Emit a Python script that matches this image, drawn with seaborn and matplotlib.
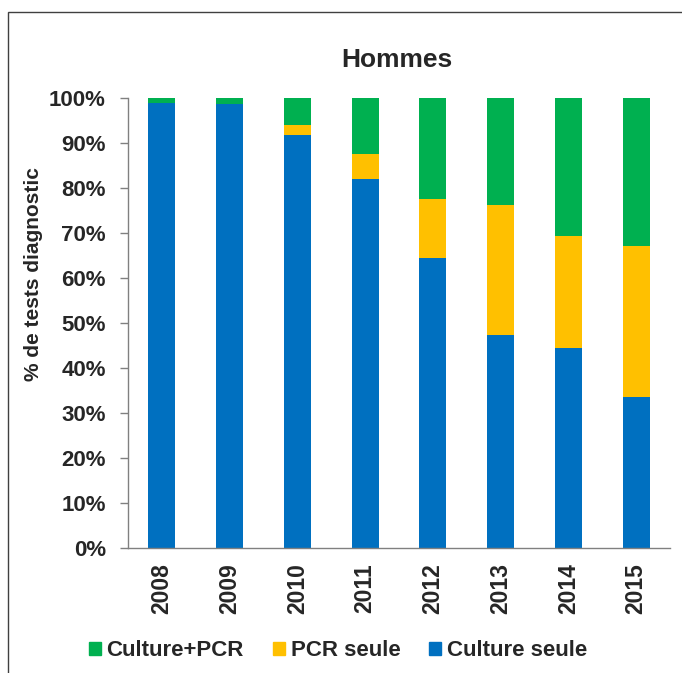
import matplotlib
matplotlib.use('Agg')
import matplotlib.pyplot as plt
import matplotlib.patches as mpatches
import numpy as np
import seaborn as sns

years = ['2008', '2009', '2010', '2011', '2012', '2013', '2014', '2015']
culture_seule = [98.9, 98.7, 91.7, 81.9, 64.4, 47.4, 44.4, 33.6]
pcr_seule = [0.0, 0.0, 2.4, 5.7, 13.2, 28.8, 24.9, 33.5]
culture_pcr = [1.1, 1.3, 5.9, 12.4, 22.4, 23.8, 30.7, 32.9]

labels = ['Culture+PCR', 'PCR seule', 'Culture seule']
colors = ['#00B050', '#FFC000', '#0070C0']

sns.set_style('white')
plt.rcParams['font.family'] = ['Liberation Sans', 'DejaVu Sans']
plt.rcParams['font.weight'] = 'bold'

fig = plt.figure(figsize=(6.82, 6.73), dpi=100)
ax = fig.add_axes([128 / 682, 1 - 548 / 673, 542 / 682, 450 / 673])

blue = np.array(culture_seule)
yellow = blue + np.array(pcr_seule)
green = yellow + np.array(culture_pcr)

# stacked: draw cumulative totals from the top down
sns.barplot(x=years, y=green, color=colors[0], width=0.4, saturation=1, ax=ax,
            edgecolor='none')
sns.barplot(x=years, y=yellow, color=colors[1], width=0.4, saturation=1, ax=ax,
            edgecolor='none')
sns.barplot(x=years, y=blue, color=colors[2], width=0.4, saturation=1, ax=ax,
            edgecolor='none')

ax.set_xlim(-0.5, len(years) - 0.5)
ax.set_ylim(0, 100)
ax.set_yticks(np.arange(0, 101, 10))
ax.set_yticklabels([f'{v}%' for v in range(0, 101, 10)], fontsize=16, fontweight='bold')
ax.set_xticks(range(len(years)))
ax.set_xticklabels(years, rotation=90, fontsize=16.5, fontweight='bold')
ax.set_xticks(np.arange(-0.5, len(years)), minor=True)
ax.tick_params(axis='x', which='major', length=0, pad=11)
ax.tick_params(axis='x', which='minor', length=6, width=1, color='#808080', direction='out')
ax.tick_params(axis='y', length=6, width=1, color='#808080', direction='out', pad=10, left=True)

for side in ['top', 'right']:
    ax.spines[side].set_visible(False)
for side in ['left', 'bottom']:
    ax.spines[side].set_color('#808080')
    ax.spines[side].set_linewidth(1)

ax.set_xlabel('')
ax.set_ylabel('% de tests diagnostic', fontsize=15, fontweight='bold')
ax.yaxis.set_label_coords(-0.157, (548 - 274) / 450)

fig.text(397 / 682, 1 - 60 / 673, 'Hommes', ha='center', va='center',
         fontsize=19, fontweight='bold')

handles = [mpatches.Patch(color=c, label=l) for c, l in zip(colors, labels)]
fig.legend(handles=handles, loc='center', bbox_to_anchor=(338 / 682, 1 - 651 / 673),
           ncol=3, frameon=False, handlelength=0.55, handleheight=0.55,
           handletextpad=0.25, columnspacing=1.3, borderaxespad=0,
           prop={'weight': 'bold', 'size': 16})

frame = mpatches.Rectangle((8 / 682, -0.05), 1.1, 1 - 12 / 673 + 0.05,
                           transform=fig.transFigure, fill=False,
                           edgecolor='#404040', linewidth=1)
fig.patches.append(frame)

fig.savefig('out.png', dpi=100)
